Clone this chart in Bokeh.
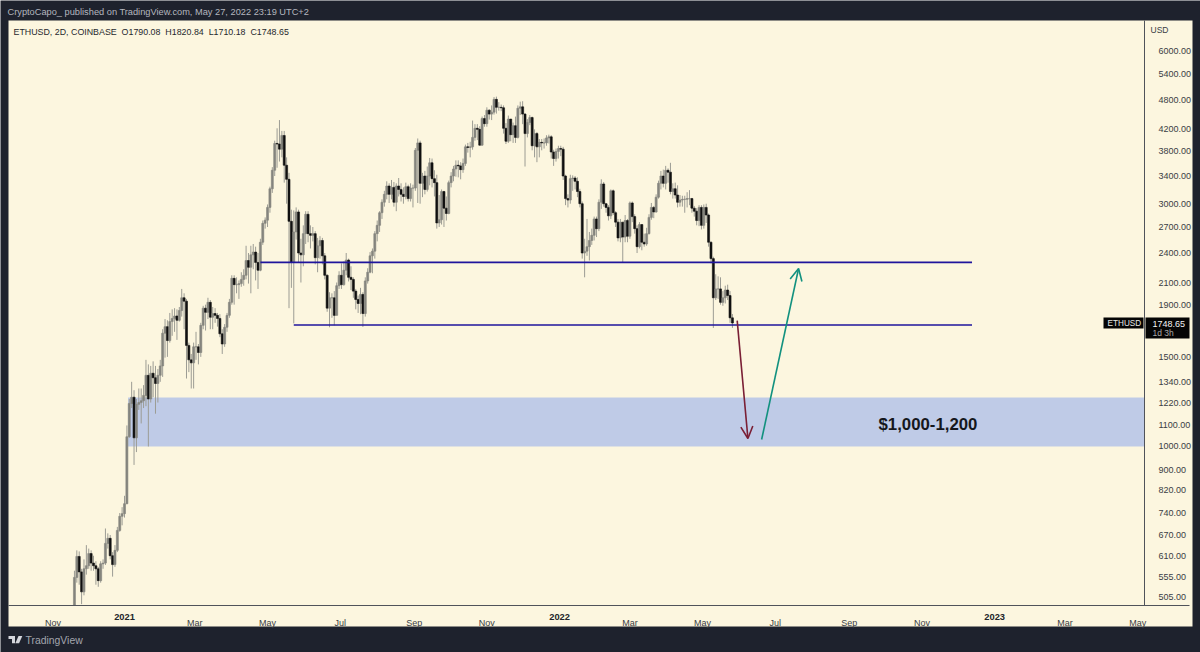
from bokeh.plotting import figure
from bokeh.embed import file_html
from bokeh.resources import INLINE
from bokeh.models import (Range1d, FixedTicker, Label, BoxAnnotation, PolyAnnotation,
                          Arrow, OpenHead, ColumnDataSource)

BG = "#fcf6df"
DARK = "#1e222d"
W, H = 1200, 652
SANS = "Liberation Sans"

first_open = 488.0
first_day = -42  # days since 2021-01-01, one bar every 2 days
closes = [553,608,567,518,575,583,616,590,583,575,545,588,590,645,660,610,586,625,684,729,738,772,1045,1215,1250,1040,1210,1220,1230,1260,
1380,1240,1393,1365,1330,1380,1440,1670,1720,1615,1760,1785,1805,1770,1850,1960,1930,1580,1480,1460,1570,1570,1530,1730,1870,1835,1920,1795,1825,1810,
1785,1665,1590,1715,1810,1920,2140,2080,2080,2090,2130,2170,2320,2250,2380,2410,2300,2220,2520,2745,2785,2950,3210,3490,3940,3930,3840,4085,3570,3350,
2770,2300,2640,2890,2400,2380,2620,2860,2620,2600,2620,2350,2480,2540,2370,2170,1870,1960,1960,1810,2070,2170,2080,2220,2325,2150,2130,2020,1945,1910,
1990,1825,2115,2200,2370,2420,2620,2720,2880,3020,3130,3250,3130,3230,3020,3250,3200,3130,3100,3240,3070,3220,3220,3820,3950,3290,3400,3200,3400,3610,
3360,3300,2750,2790,3170,2940,2870,3300,3400,3510,3570,3560,3500,3600,3880,3870,3880,4050,4220,4200,3910,4410,4310,4580,4500,4540,4810,4640,4640,4630,
4220,3980,4400,4100,4270,4050,4620,4650,4500,4120,4330,4430,3900,4120,3880,3960,3950,3950,4040,4060,3790,3680,3800,3850,3840,3400,3070,3050,3360,3370,
3320,3170,3000,2400,2420,2470,2540,2600,2800,2680,3020,3280,3000,2950,2840,3180,2880,2760,2570,2760,2580,2780,2590,3010,2830,2680,2470,2730,2520,2500,
2620,2820,2950,2890,3090,3290,3400,3290,3490,3460,3170,3210,3120,3020,3050,3060,3060,3070,3070,2940,2900,2780,2950,2720,2950,2850,2520,2340,1960,2040,
2040,1920,1960,2030,1980,1790.08,1748.65]
highs = [570,625,622,575,600,640,630,625,610,595,580,595,600,690,675,670,620,640,695,740,760,800,1100,1240,1340,1290,1240,1300,1300,1320,
1480,1450,1440,1470,1440,1420,1480,1700,1780,1770,1830,1860,1870,1860,1880,2040,2000,1950,1600,1520,1600,1680,1590,1750,1890,1900,1960,1940,1880,1870,
1830,1820,1700,1740,1830,1950,2170,2170,2150,2120,2200,2230,2480,2400,2480,2500,2470,2400,2560,2780,2820,2990,3240,3540,3990,4220,4380,4170,4170,3700,
3450,2920,2910,2950,2920,2560,2720,2900,2900,2720,2700,2650,2570,2590,2570,2400,2180,2010,2000,2020,2100,2210,2290,2310,2400,2340,2260,2150,2040,1980,
2050,2010,2150,2240,2410,2450,2650,2780,2900,3060,3180,3320,3290,3340,3310,3290,3370,3290,3230,3300,3270,3290,3270,3860,4030,3990,3450,3480,3550,3690,
3680,3490,3420,3120,3200,3180,3100,3330,3460,3560,3650,3650,3620,3680,3920,3950,3970,4370,4300,4300,4260,4450,4480,4640,4600,4680,4860,4870,4750,4700,
4680,4320,4470,4400,4330,4450,4680,4760,4770,4520,4400,4480,4450,4200,4150,4020,4020,4030,4090,4100,4090,3830,3850,3900,3900,3880,3420,3130,3420,3410,
3400,3380,3210,3030,2560,2800,2640,2680,2830,2830,3060,3350,3310,3010,2980,3200,3200,2900,2800,2800,2760,2850,2800,3030,3030,2860,2720,2760,2730,2620,
2690,2860,3010,2970,3130,3330,3480,3500,3560,3520,3610,3290,3300,3260,3120,3110,3110,3160,3190,3080,2970,2940,2980,2980,2990,3000,2870,2530,2360,2180,
2160,2150,2020,2070,2080,2020,1820.84]
lows = [488,540,535,490,510,560,575,570,570,535,530,540,575,585,630,600,555,580,620,680,700,725,770,1040,1190,920,975,1180,1110,1190,
1200,1000,1220,1250,1160,1220,1340,1370,1495,1500,1600,1650,1680,1620,1760,1800,1700,1360,1400,1300,1300,1480,1450,1500,1700,1690,1780,1700,1700,1750,
1720,1640,1520,1570,1680,1790,1900,1900,2000,1950,2060,2070,2130,2090,2000,2230,2120,2040,2210,2490,2680,2700,2880,3150,3400,3530,3630,3700,3300,3000,
1870,2050,1745,2550,2300,2100,2260,2500,2520,2450,2530,2280,2200,2340,2280,2130,1840,1715,1790,1730,1810,2040,2040,2070,2170,2110,2030,1960,1860,1830,
1820,1718,1800,2090,2190,2190,2340,2530,2640,2800,2960,3060,3010,3060,2960,2900,3100,3030,3000,3060,3030,3030,2950,3180,3010,3000,3090,3130,3170,3260,
3230,3100,2680,2700,2730,2700,2780,2860,3230,3320,3390,3380,3350,3450,3560,3780,3700,3830,3990,4000,3900,3900,4250,4250,4390,4380,4490,4510,4570,4560,
4120,3930,3950,3980,3950,3950,4030,4480,4300,3550,4050,4280,3820,3700,3620,3700,3820,3850,3900,3940,3680,3560,3630,3680,3720,3340,2980,2950,3000,3180,
3200,3090,2950,2340,2150,2370,2320,2490,2540,2580,2650,2930,2960,2880,2780,2800,2850,2700,2530,2520,2300,2520,2520,2560,2760,2620,2400,2450,2430,2470,
2480,2610,2790,2810,2880,3070,3200,3230,3200,3300,3130,3070,3070,2950,2960,2960,2880,2950,2980,2880,2830,2720,2710,2670,2680,2750,2470,2290,1710,1940,
1950,1900,1890,1910,1940,1750,1710.18]
opens = [first_open] + closes[:-1]
days = [first_day + 2 * i for i in range(len(closes))]

price_ticks = [6000,5400,4800,4200,3800,3400,3000,2700,2400,2100,1900,1500,1340,1220,1100,1000,900,820,740,670,610,555,505]
month_ticks = [-60,59,120,181,243,304,424,485,546,608,669,789,850]
month_labels = ["Nov","Mar","May","Jul","Sep","Nov","Mar","May","Jul","Sep","Nov","Mar","May"]
year_ticks = [0,365,730]
year_labels = ["2021","2022","2023"]
level_high, level_low = 2300, 1733
level_start_high, level_start_low, level_end = 114, 142, 711
zone_low, zone_high, zone_start, zone_end = 1000, 1248, 3, 855.7

# the frame fills the whole canvas, so header, axes and footer all sit inside it
p = figure(width=W, height=H, output_backend="svg", toolbar_location=None,
           y_axis_type="log", y_axis_location="right",
           x_range=Range1d(-104.03, 902.68), y_range=Range1d(393.7, 7524))
p.min_border = 0
p.border_fill_color = DARK
p.background_fill_color = DARK
p.outline_line_color = None
p.grid.visible = False

xa = p.xaxis[0]; ya = p.yaxis[0]
xa.ticker = FixedTicker(ticks=month_ticks)
xa.major_label_overrides = dict(zip(month_ticks, month_labels))
xa.fixed_location = 486
xa.bounds = (-97.3, 893.3)
ya.ticker = FixedTicker(ticks=price_ticks)
ya.major_label_overrides = {t: f"{t:.2f}" for t in price_ticks}
ya.fixed_location = 855.7
ya.bounds = (486, 6873)
for a in (xa, ya):
    a.major_tick_line_color = None
    a.minor_tick_line_color = None
    a.axis_line_color = "#50535a"
    a.axis_line_width = 1
    a.major_label_text_font = SANS
    a.major_label_text_font_size = "9px"
    a.major_label_text_color = "#3a3d44"
xa.major_label_standoff = 6
ya.major_label_standoff = 8

def canvas_box(l, r, t, b, color, level="underlay"):
    p.add_layout(BoxAnnotation(left=l, right=r, top=t, bottom=b,
                               left_units="canvas", right_units="canvas",
                               top_units="canvas", bottom_units="canvas",
                               fill_color=color, fill_alpha=1, line_color=None, level=level))

canvas_box(8, 1192, 20, 626, BG)
p.add_layout(BoxAnnotation(left=zone_start, right=zone_end, bottom=zone_low, top=zone_high,
                           fill_color="#bfcbe7", fill_alpha=1, line_color=None, level="underlay"))

up = [c >= o for c, o in zip(closes, opens)]
src = ColumnDataSource(dict(
    x=days, h=highs, l=lows,
    top=[max(a, b) for a, b in zip(opens, closes)],
    bottom=[min(a, b) for a, b in zip(opens, closes)],
    color=["#85857e" if u else "#101010" for u in up]))
p.segment("x", "h", "x", "l", source=src, color="#9c9c94", line_width=1)
p.vbar(x="x", top="top", bottom="bottom", width=1.7, source=src, fill_color="color", line_color="color", line_width=0.6)

p.segment([level_start_high, level_start_low], [level_high, level_low],
          [level_end, level_end], [level_high, level_low], color="#1f149c", line_width=1.6)

arrows = [("#7a1f35", 514, 1768, 523, 1037), ("#12917f", 534.5, 1032, 565.5, 2238)]
for col, x0, y0, x1, y1 in arrows:
    p.add_layout(Arrow(x_start=x0, y_start=y0, x_end=x1, y_end=y1, line_color=col, line_width=1.6,
                       end=OpenHead(size=12, line_color=col, line_width=1.6)))

def text(s, px, py, size, color, style="normal", align="left", font=SANS, x_data=None):
    kw = dict(x=x_data, x_units="data") if x_data is not None else dict(x=px, x_units="canvas")
    p.add_layout(Label(y=py, y_units="canvas", text=s, text_font=font,
                       text_font_size=f"{size}px", text_color=color, text_font_style=style,
                       text_align=align, text_baseline="middle", level="overlay", **kw))

NB = "\u00a0"
text("CryptoCapo_ published on TradingView.com, May 27, 2022 23:19 UTC+2", 7, 11, 9.25, "#b4b7bf")
text(f"ETHUSD, 2D, COINBASE{NB}{NB}O1790.08{NB}{NB}H1820.84{NB}{NB}L1710.18{NB}{NB}C1748.65", 13, 31, 8.85, "#26282e")
text("USD", 1150, 29, 8.5, "#3a3d44")
text("$1,000-1,200", 878, 424, 16.8, "#15171c", style="bold")
for t, s in zip(year_ticks, year_labels):
    text(s, 0, 616, 9.3, "#222429", style="bold", align="center", x_data=t)

canvas_box(1103, 1143, 317, 328, "#050505", level="annotation")
canvas_box(1145, 1189, 317, 338, "#050505", level="annotation")
text("ETHUSD", 1107, 323, 8.2, "#e8e8e8")
text("1748.65", 1152, 323, 9, "#f4f4f4")
text("1d 3h", 1152, 332, 8.5, "#a8a8a8")

for xs, ys in [([8,14.5,14.5,11.5,11.5,8],[635.5,635.5,642.8,642.8,638.4,638.4]),
               ([18,21.8,18.6,14.8],[635.5,635.5,642.8,642.8])]:
    p.add_layout(PolyAnnotation(xs=xs, ys=ys, xs_units="canvas", ys_units="canvas",
                                fill_color="#d4d6dc", fill_alpha=1, line_color=None, level="overlay"))
text("TradingView", 25, 640, 10.4, "#a3a6ae")

open("out.html", "w").write(file_html(p, INLINE))
